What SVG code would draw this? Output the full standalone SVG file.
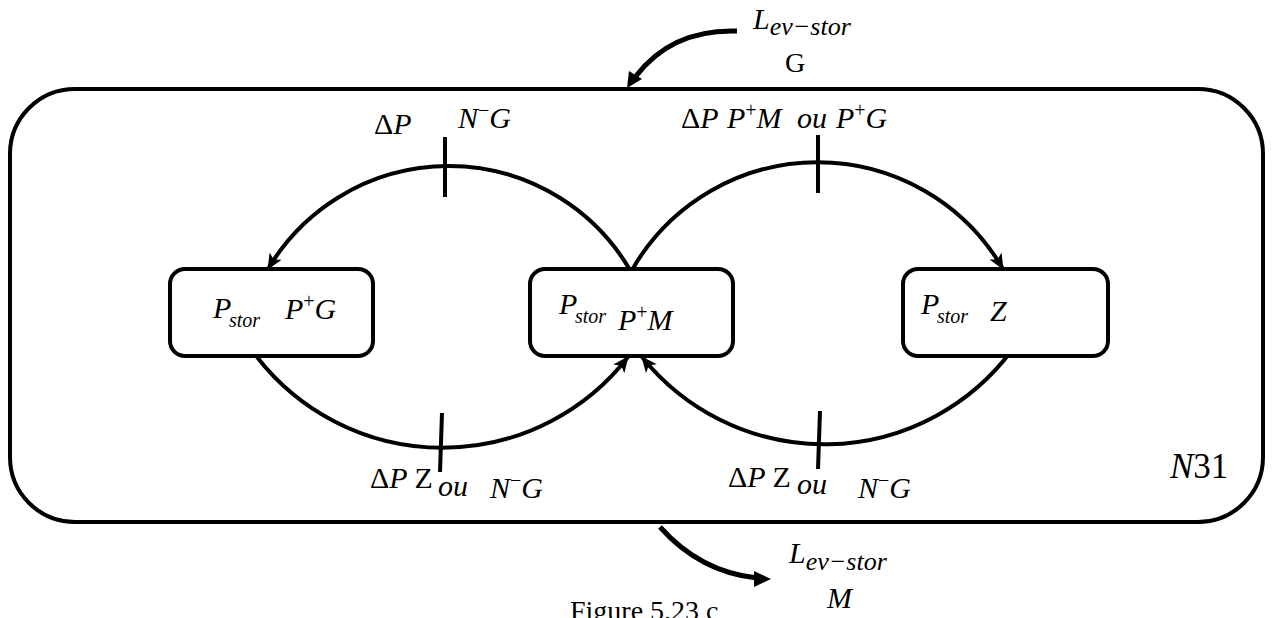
<svg xmlns="http://www.w3.org/2000/svg" width="1273" height="618" viewBox="0 0 1273 618">
<style>
text{font-family:"Liberation Serif","Times New Roman",serif;fill:#000}
.m{font-size:30px;font-style:italic}
.u{font-style:normal}
.sub{font-size:20px;font-style:italic}
.sup{font-size:20px;font-style:normal}
.box{fill:#fff;stroke:#000;stroke-width:4}
.arc{fill:none;stroke:#000;stroke-width:4}
.tick{stroke:#000;stroke-width:4}
</style>
<defs>
<marker id="ah" markerUnits="userSpaceOnUse" markerWidth="18" markerHeight="14" refX="15" refY="7" orient="auto">
<path d="M0,0 L16,7 L0,14 L4,7 Z" fill="#000"/>
</marker>
</defs>
<rect x="10" y="89" width="1253" height="433" rx="65" ry="65" fill="#fff" stroke="#000" stroke-width="4"/>
<g id="connectors">
<path class="arc" d="M630 270 A210 210 0 0 0 268 269" marker-end="url(#ah)"/>
<path class="arc" d="M632 270 A214 214 0 0 1 1003 269" marker-end="url(#ah)"/>
<path class="arc" d="M257 357 A235 235 0 0 0 628 357" marker-end="url(#ah)"/>
<path class="arc" d="M1012 350 A234 234 0 0 1 642 357" marker-end="url(#ah)"/>
<line class="tick" x1="445" y1="137" x2="445" y2="197"/>
<line class="tick" x1="818" y1="135" x2="818" y2="193"/>
<line class="tick" x1="442" y1="413" x2="440" y2="472"/>
<line class="tick" x1="820" y1="411" x2="818" y2="469"/>
<path d="M737 31 Q672 29 636 76" fill="none" stroke="#000" stroke-width="5"/>
<path d="M627 88 L629 71 L642 79 Z" fill="#000"/>
<path d="M660 527 Q700 572 757 578" fill="none" stroke="#000" stroke-width="5"/>
<path d="M771 579 L754 571 L754 587 Z" fill="#000"/>
</g>
<g id="node-left">
<rect class="box" x="170" y="269" width="203" height="87" rx="15"/>
<text class="m" x="213" y="318">P</text>
<text class="sub" x="229" y="327">stor</text>
<text class="m" x="285" y="319">P<tspan class="sup" dy="-11">+</tspan><tspan dy="11">G</tspan></text>
</g>
<g id="node-middle">
<rect class="box" x="530" y="269" width="203" height="87" rx="15"/>
<text class="m" x="559" y="314">P</text>
<text class="sub" x="575" y="323">stor</text>
<text class="m" x="618" y="330">P<tspan class="sup" dy="-11">+</tspan><tspan dy="11">M</tspan></text>
</g>
<g id="node-right">
<rect class="box" x="903" y="269" width="205" height="87" rx="15"/>
<text class="m" x="921" y="314">P</text>
<text class="sub" x="937" y="323">stor</text>
<text class="m" x="990" y="321">Z</text>
</g>
<g id="labels">
<text class="m" x="374" y="134"><tspan class="u">Δ</tspan>P</text>
<text class="m" x="458" y="128">N<tspan class="sup" dy="-11">−</tspan><tspan dy="11">G</tspan></text>
<text class="m" x="681" y="128"><tspan class="u">Δ</tspan>P</text>
<text class="m" x="727" y="128">P<tspan class="sup" dy="-11">+</tspan><tspan dy="11">M</tspan></text>
<text class="m" x="797" y="128" font-size="29">ou</text>
<text class="m" x="836" y="128">P<tspan class="sup" dy="-11">+</tspan><tspan dy="11">G</tspan></text>
<text class="m" x="370" y="488"><tspan class="u">Δ</tspan>P <tspan class="u">Z</tspan></text>
<text class="m" x="438" y="496" font-size="29">ou</text>
<text class="m" x="490" y="498">N<tspan class="sup" dy="-11">−</tspan><tspan dy="11">G</tspan></text>
<text class="m" x="728" y="487"><tspan class="u">Δ</tspan>P <tspan class="u">Z</tspan></text>
<text class="m" x="797" y="494" font-size="29">ou</text>
<text class="m" x="858" y="498">N<tspan class="sup" dy="-11">−</tspan><tspan dy="11">G</tspan></text>
<text x="1170" y="478" font-size="35"><tspan font-style="italic">N</tspan>31</text>
<text class="m" x="753" y="29">L<tspan font-size="26" dy="6">ev−stor</tspan></text>
<text x="785" y="72" font-size="28">G</text>
<text class="m" x="789" y="563">L<tspan font-size="26" dy="7">ev−stor</tspan></text>
<text class="m" x="827" y="608">M</text>
<text x="570" y="620" font-size="28">Figure 5.23 c</text>
</g>
</svg>
